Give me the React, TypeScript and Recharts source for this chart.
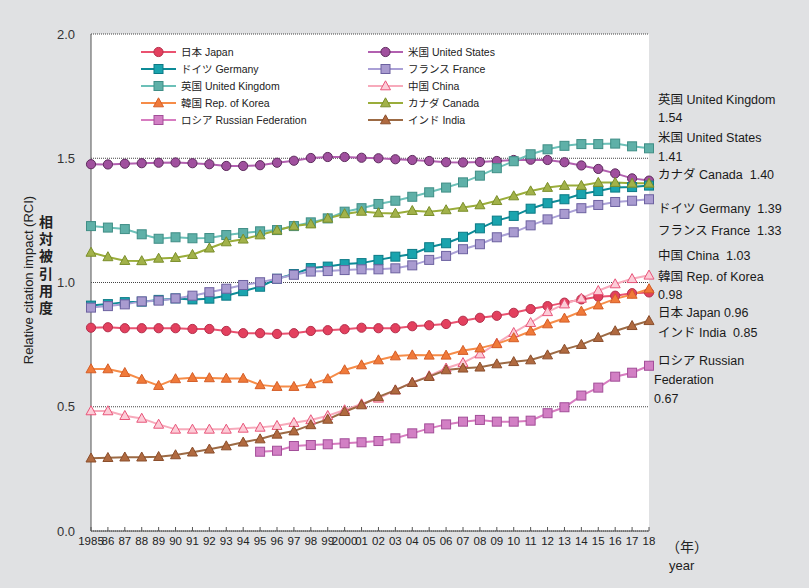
import React from "react";
import { LineChart, Line, XAxis, YAxis, CartesianGrid, Legend } from "recharts";

// 1985〜2018年、相対被引用度(RCI)の推移
const YEARS = [
  "1985", "86", "87", "88", "89", "90", "91", "92", "93", "94", "95", "96", "97", "98", "99", "2000",
  "01", "02", "03", "04", "05", "06", "07", "08", "09", "10", "11", "12", "13", "14", "15", "16", "17", "18",
];

const JAPAN = [0.818, 0.82, 0.816, 0.816, 0.816, 0.816, 0.813, 0.813, 0.805, 0.796, 0.796, 0.793, 0.796, 0.805, 0.808, 0.812, 0.818, 0.816, 0.816, 0.824, 0.828, 0.833, 0.846, 0.858, 0.866, 0.878, 0.893, 0.905, 0.919, 0.932, 0.943, 0.947, 0.957, 0.96];
const US = [1.476, 1.475, 1.478, 1.48, 1.482, 1.483, 1.48, 1.476, 1.469, 1.469, 1.472, 1.482, 1.49, 1.501, 1.505, 1.505, 1.502, 1.5, 1.496, 1.493, 1.489, 1.484, 1.483, 1.485, 1.489, 1.493, 1.494, 1.493, 1.484, 1.471, 1.457, 1.439, 1.419, 1.41];
const GERMANY = [0.907, 0.913, 0.921, 0.923, 0.93, 0.936, 0.932, 0.935, 0.947, 0.965, 0.983, 1.015, 1.034, 1.058, 1.064, 1.074, 1.078, 1.091, 1.104, 1.115, 1.142, 1.158, 1.184, 1.218, 1.249, 1.268, 1.297, 1.319, 1.335, 1.356, 1.368, 1.382, 1.384, 1.39];
const FRANCE = [0.899, 0.905, 0.912, 0.924, 0.927, 0.936, 0.947, 0.961, 0.975, 0.99, 1.001, 1.015, 1.031, 1.044, 1.046, 1.05, 1.053, 1.053, 1.057, 1.069, 1.091, 1.107, 1.134, 1.154, 1.182, 1.202, 1.23, 1.254, 1.276, 1.299, 1.312, 1.324, 1.329, 1.335];
const UK = [1.227, 1.221, 1.215, 1.194, 1.176, 1.182, 1.178, 1.179, 1.191, 1.199, 1.206, 1.211, 1.227, 1.242, 1.258, 1.285, 1.299, 1.316, 1.329, 1.345, 1.363, 1.382, 1.403, 1.43, 1.46, 1.488, 1.516, 1.536, 1.55, 1.557, 1.557, 1.559, 1.548, 1.54];
const CHINA = [0.483, 0.483, 0.464, 0.453, 0.429, 0.409, 0.409, 0.409, 0.409, 0.413, 0.417, 0.424, 0.436, 0.447, 0.464, 0.487, 0.511, 0.534, 0.567, 0.598, 0.624, 0.655, 0.677, 0.712, 0.755, 0.798, 0.838, 0.882, 0.913, 0.936, 0.967, 0.994, 1.015, 1.029];
const KOREA = [0.652, 0.652, 0.637, 0.61, 0.585, 0.612, 0.617, 0.616, 0.614, 0.614, 0.588, 0.581, 0.581, 0.592, 0.612, 0.648, 0.668, 0.688, 0.704, 0.708, 0.707, 0.707, 0.726, 0.736, 0.753, 0.777, 0.804, 0.833, 0.856, 0.884, 0.909, 0.934, 0.952, 0.974];
const CANADA = [1.121, 1.103, 1.088, 1.087, 1.097, 1.1, 1.112, 1.138, 1.163, 1.174, 1.191, 1.21, 1.227, 1.235, 1.258, 1.276, 1.286, 1.28, 1.278, 1.289, 1.285, 1.292, 1.302, 1.312, 1.329, 1.348, 1.368, 1.382, 1.39, 1.39, 1.402, 1.402, 1.399, 1.399];
// ロシアは1995年から
const RUSSIA = [null, null, null, null, null, null, null, null, null, null, 0.319, 0.323, 0.342, 0.346, 0.349, 0.353, 0.357, 0.362, 0.373, 0.393, 0.413, 0.429, 0.44, 0.447, 0.44, 0.44, 0.444, 0.474, 0.498, 0.545, 0.577, 0.621, 0.637, 0.665];
const INDIA = [0.293, 0.295, 0.297, 0.297, 0.299, 0.306, 0.317, 0.329, 0.342, 0.357, 0.37, 0.389, 0.402, 0.427, 0.449, 0.48, 0.507, 0.54, 0.567, 0.597, 0.621, 0.648, 0.655, 0.659, 0.672, 0.681, 0.688, 0.708, 0.731, 0.75, 0.778, 0.805, 0.826, 0.846];

const Y_TICKS = [0, 0.5, 1.0, 1.5, 2.0];

// 凡例の並び(2列、行優先)に合わせた順番
const SERIES = [
  { key: "jp", name: "日本 Japan", values: JAPAN, shape: "circle", line: "#ea5270", fill: "#e3405e", stroke: "#b4304c" },
  { key: "us", name: "米国 United States", values: US, shape: "circle", line: "#b260b0", fill: "#a0509e", stroke: "#5e2c5e" },
  { key: "de", name: "ドイツ Germany", values: GERMANY, shape: "square", line: "#0d8b97", fill: "#1aa4ae", stroke: "#0b7a86" },
  { key: "fr", name: "フランス France", values: FRANCE, shape: "square", line: "#aaa0d6", fill: "#a99bd0", stroke: "#6c61a0" },
  { key: "uk", name: "英国 United Kingdom", values: UK, shape: "square", line: "#6cc0b8", fill: "#5fb0a8", stroke: "#3f8e86" },
  { key: "cn", name: "中国 China", values: CHINA, shape: "triangle", line: "#f7aabb", fill: "#fcccd7", stroke: "#e8557a" },
  { key: "kr", name: "韓国 Rep. of Korea", values: KOREA, shape: "triangle", line: "#f68c48", fill: "#f07a3a", stroke: "#d45e28" },
  { key: "ca", name: "カナダ Canada", values: CANADA, shape: "triangle", line: "#9aad3a", fill: "#a2b24a", stroke: "#7a8e2a" },
  { key: "ru", name: "ロシア Russian Federation", values: RUSSIA, shape: "square", line: "#d77cc0", fill: "#d27fc4", stroke: "#a24e98" },
  { key: "in", name: "インド India", values: INDIA, shape: "triangle", line: "#9c6a44", fill: "#b06a40", stroke: "#8a4e2c" },
];

// 右側の最終年ラベル(中心y, テキスト)
const END_LABELS = [
  { y: 100, x: 658, text: "英国 United Kingdom" },
  { y: 118, x: 658, text: "1.54" },
  { y: 138, x: 658, text: "米国 United States" },
  { y: 157, x: 658, text: "1.41" },
  { y: 175, x: 658, text: "カナダ Canada  1.40" },
  { y: 209, x: 658, text: "ドイツ Germany  1.39" },
  { y: 231, x: 658, text: "フランス France  1.33" },
  { y: 256, x: 658, text: "中国 China  1.03" },
  { y: 277, x: 658, text: "韓国 Rep. of Korea" },
  { y: 295, x: 658, text: "0.98" },
  { y: 313, x: 658, text: "日本 Japan 0.96" },
  { y: 333, x: 658, text: "インド India  0.85" },
  { y: 361, x: 658, text: "ロシア Russian" },
  { y: 380, x: 654, text: "Federation" },
  { y: 399, x: 654, text: "0.67" },
];

const FONT = '"Liberation Sans", Arial, "Noto Sans CJK JP", sans-serif';

const data = YEARS.map((label, i) => {
  const row: Record<string, string | number | null> = { label };
  SERIES.forEach((s) => {
    row[s.key] = s.values[i];
  });
  return row;
});

function Marker({ shape, cx, cy, fill, stroke }: { shape: string; cx: number; cy: number; fill: string; stroke: string }) {
  if (shape === "circle") return <circle cx={cx} cy={cy} r={4.6} fill={fill} stroke={stroke} strokeWidth={1} />;
  if (shape === "square") return <rect x={cx - 4.5} y={cy - 4.5} width={9} height={9} fill={fill} stroke={stroke} strokeWidth={1} />;
  return (
    <polygon
      points={`${cx},${cy - 5.2} ${cx + 5},${cy + 3.8} ${cx - 5},${cy + 3.8}`}
      fill={fill}
      stroke={stroke}
      strokeWidth={1}
    />
  );
}

// 凡例はSERIESの順(2列・行優先)で並べる。Legendの既定ソートに任せない。
function LegendBox() {
  return (
    <div style={{ display: "grid", gridTemplateColumns: "227px 227px", fontFamily: FONT, fontSize: 10.5, color: "#222" }}>
      {SERIES.map((s) => (
        <div key={s.key} style={{ display: "flex", alignItems: "center", height: 17 }}>
          <svg width={36} height={12} style={{ flex: "none" }}>
            <line x1={0} y1={6} x2={35} y2={6} stroke={s.line} strokeWidth={2} />
            <Marker shape={s.shape} cx={17.5} cy={6} fill={s.fill} stroke={s.stroke} />
          </svg>
          <span style={{ marginLeft: 4, whiteSpace: "nowrap" }}>{s.name}</span>
        </div>
      ))}
    </div>
  );
}

export default function App() {
  return (
    <div style={{ position: "absolute", left: 0, top: 0, width: 809, height: 588, background: "#e0e1e3", fontFamily: FONT }}>
      <LineChart width={809} height={588} data={data} margin={{ top: 34, right: 160, bottom: 27, left: 61 }}>
        <CartesianGrid vertical={false} fill="#ffffff" stroke="#444" strokeDasharray="1 1" />
        <XAxis
          dataKey="label"
          interval={0}
          tickSize={-4}
          tickMargin={10}
          height={30}
          stroke="#555"
          tick={{ fontSize: 11.5, fill: "#222", fontFamily: FONT }}
        />
        <YAxis
          domain={[0, 2]}
          ticks={Y_TICKS}
          width={30}
          tickLine={false}
          tickSize={0}
          tickMargin={16}
          stroke="#555"
          tickFormatter={(v: number) => v.toFixed(1)}
          tick={{ fontSize: 13, fill: "#333", fontFamily: FONT }}
        />
        <Legend
          layout="horizontal"
          verticalAlign="middle"
          align="center"
          content={() => <LegendBox />}
          wrapperStyle={{ position: "absolute", left: 141, top: 43, width: 460 }}
        />
        {SERIES.map((s) => (
          <Line
            key={s.key}
            type="linear"
            dataKey={s.key}
            name={s.name}
            stroke={s.line}
            strokeWidth={2}
            isAnimationActive={false}
            dot={(p: any) =>
              p.cy == null || p.value == null ? (
                <g key={`${s.key}-${p.index}`} />
              ) : (
                <Marker key={`${s.key}-${p.index}`} shape={s.shape} cx={p.cx} cy={p.cy} fill={s.fill} stroke={s.stroke} />
              )
            }
            activeDot={false}
          />
        ))}
      </LineChart>

      {END_LABELS.map((l) => (
        <div
          key={l.text + l.y}
          style={{ position: "absolute", left: l.x, top: l.y - 8, lineHeight: "16px", fontSize: 12.5, color: "#1a1a1a", whiteSpace: "pre" }}
        >
          {l.text}
        </div>
      ))}

      <div
        style={{
          position: "absolute",
          left: 28,
          top: 280,
          transform: "translate(-50%, -50%) rotate(-90deg)",
          fontSize: 13,
          color: "#222",
          whiteSpace: "nowrap",
        }}
      >
        Relative citation impact (RCI)
      </div>
      <div
        style={{
          position: "absolute",
          left: 39,
          top: 213,
          width: 16,
          fontSize: 14,
          lineHeight: "17.2px",
          fontWeight: "bold",
          color: "#222",
          fontFamily: '"Noto Sans CJK JP", sans-serif',
          wordBreak: "break-all",
        }}
      >
        相対被引用度
      </div>
      <div style={{ position: "absolute", left: 666, top: 536, fontSize: 14, color: "#222" }}>（年）</div>
      <div style={{ position: "absolute", left: 669, top: 558, fontSize: 13, color: "#222" }}>year</div>
    </div>
  );
}
